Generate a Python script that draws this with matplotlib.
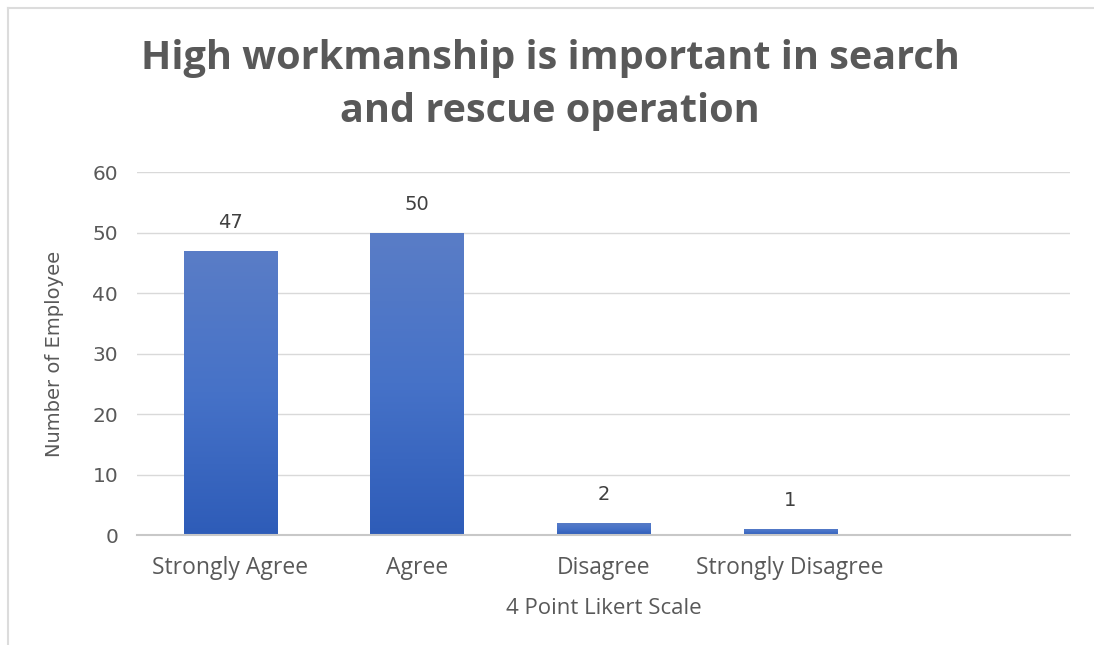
import numpy as np
import matplotlib.pyplot as plt
from matplotlib.lines import Line2D
from matplotlib.colors import LinearSegmentedColormap

categories = ["Strongly Agree", "Agree", "Disagree", "Strongly Disagree", ""]
values = [47, 50, 2, 1]
yticks = [0, 10, 20, 30, 40, 50, 60]

title = "High workmanship is important in search\nand rescue operation"
xlabel = "4 Point Likert Scale"
ylabel = "Number of Employee"

fig = plt.figure(figsize=(10.94, 6.45), dpi=100)
ax = fig.add_axes([0.1252, 0.1705, 0.853, 0.5628])

# light frame like the pasted chart area
fig.add_artist(Line2D([0.0075, 1.0], [1 - 8 / 645, 1 - 8 / 645], color="#dcdcdc", lw=1.5))
fig.add_artist(Line2D([0.0075, 0.0075], [0.0, 1 - 8 / 645], color="#dcdcdc", lw=1.5))

x = np.arange(len(values))
bars = ax.bar(x, values, width=0.5, color="#4472c4", zorder=2)

# vertical gradient inside each bar
cmap = LinearSegmentedColormap.from_list("bar", ["#2e5cb8", "#4672c8", "#5a7dc6"])
grad = np.linspace(0, 1, 256).reshape(-1, 1)
for b in bars:
    x0, y0 = b.get_x(), b.get_y()
    w, h = b.get_width(), b.get_height()
    im = ax.imshow(grad, cmap=cmap, aspect="auto", origin="lower",
                   extent=[x0, x0 + w, y0, y0 + h], zorder=3)
    im.set_clip_path(b)

for xi, v in zip(x, values):
    ax.annotate(str(v), (xi, v), xytext=(0, 16.5), textcoords="offset points",
                ha="center", va="baseline", fontsize=14, color="#404040",
                family="DejaVu Sans")

ax.set_xlim(-0.5, len(categories) - 0.5)
ax.set_ylim(0, 60)
ax.set_yticks(yticks)
ax.set_xticks(np.arange(len(categories)))
ax.set_xticklabels(categories, family="Open Sans", fontsize=16.5, color="#595959")
for lbl in ax.get_yticklabels():
    lbl.set_family("DejaVu Sans")
    lbl.set_fontsize(14.5)
    lbl.set_color("#595959")
ax.tick_params(axis="x", length=0, pad=15)
ax.tick_params(axis="y", length=0, pad=13.5)

ax.grid(axis="y", color="#d9d9d9", lw=1, zorder=0)
for side in ["top", "right", "left"]:
    ax.spines[side].set_visible(False)
ax.spines["bottom"].set_color("#c8c8c8")
ax.spines["bottom"].set_linewidth(1.5)
ax.spines["bottom"].set_zorder(4)

ax.set_xlabel(xlabel, family="Open Sans", fontsize=16, color="#595959")
ax.xaxis.set_label_coords(0.5, -63 / 363)
ax.set_ylabel(ylabel, family="DejaVu Sans", fontsize=14, color="#595959")
ax.yaxis.set_label_coords(-(137 - 64) / 933, 0.5)

# va="baseline" lines up the last line of the title
fig.text(0.503, 1 - 122 / 645, title, ha="center", va="baseline", family="Open Sans",
         fontweight="bold", fontsize=28.5, color="#595959", linespacing=1.45)

fig.savefig("out.png", dpi=100, facecolor="white")
